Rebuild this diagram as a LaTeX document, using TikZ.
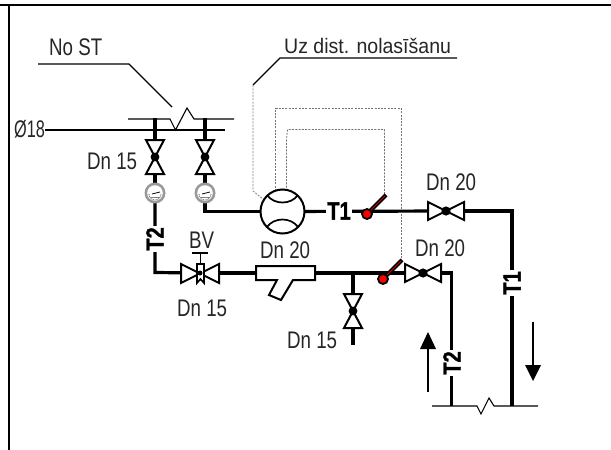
\documentclass[tikz,border=0pt]{standalone}
\usepackage{fontspec}
\setmainfont[FakeStretch=0.78]{Liberation Sans}
\newfontfamily\boldf[FakeStretch=0.8,BoldFeatures={FakeBold=1.2}]{Liberation Sans}
\newfontfamily\uzf[FakeStretch=0.93]{Liberation Sans}
\newfontfamily\numf[FakeStretch=0.68]{Liberation Sans}
\usetikzlibrary{calc}
\definecolor{dashgray}{gray}{0.45}
\definecolor{labcol}{gray}{0.15}
\tikzset{
  x=1pt,y=-1pt,
  frameline/.style={line width=2.4pt,black},
  pipe/.style={line width=3.2pt,line join=miter,black},
  thinline/.style={line width=1.1pt,black},
  sym/.style={line width=2pt,black,fill=white,line join=miter},
  dashedgray/.style={line width=0.8pt,dashgray,dash pattern=on 2pt off 1.3pt},
  lab/.style={inner sep=0pt,text=labcol,font=\fontsize{24}{24}\selectfont},
  tag/.style={inner sep=1.5pt,fill=white,font=\boldf\bfseries\fontsize{25}{25}\selectfont},
  pics/vvalve/.style={code={
    \draw[sym] (-9,-17)--(9,-17)--(-9,17)--(9,17)--cycle;
    \fill (0,0) circle (4.4);}},
  pics/hvalve/.style={code={
    \draw[sym] (-18,-9)--(-18,9)--(18,-9)--(18,9)--cycle;
    \fill (0,0) circle (4.6);}},
  pics/gauge/.style={code={
    \fill[gray!80] (0,0) circle (10.5);
    \fill[white] (0,0) circle (7.8);
    \draw[gray!80!black,line width=0.8pt,dash pattern=on 1pt off 0.8pt] (-6,1) arc (180:0:6);
    \draw[black,line width=0.8pt] (-3,1)--(5,-1);
    \draw[gray,line width=1pt] (-4,4.5)--(4,4.5);}},
  pics/sensor/.style={code={
    \draw[line width=4.2pt,black] (0,0)--(19,-19);
    \draw[line width=1pt,red!80!black] (0,0)--(18,-18);
    \draw[line width=1.8pt,fill=red] (0,0) circle (5);}},
}
\begin{document}
\begin{tikzpicture}
\useasboundingbox (0,0) rectangle (611,450);
\fill[white] (0,0) rectangle (611,450);
% frame
\coordinate (ftl) at (9,5);
\draw[frameline] (0,5)--(611,5);
\draw[frameline] (ftl)--(9,450);
% upper pipe and sleeve lines
\draw[thinline] (128,119)--(170,119)--(175.5,130)--(187,108)--(194,119)--(234,119);
\node[lab,anchor=west,font=\numf\fontsize{24}{24}\selectfont] (d18) at (14,129) {Ø18};
\coordinate (d18e) at (225,130);
\draw[thinline] (d18.east)++(0,1)--(d18e);
% leaders
\node[lab,anchor=west] (nost) at (49,47) {No ST};
\draw[thinline] (38,64)--(129,64)--(172,107);
\node[lab,anchor=west,font=\uzf\fontsize{21}{21}\selectfont] (uz) at (284,46) {Uz dist. nolasīšanu};
\draw[thinline] (253,85)--(280,58)--(457,58);
% instruments positions
\coordinate (vl) at (155,157);
\coordinate (vr) at (205,157);
\coordinate (gl) at (155,193);
\coordinate (gr) at (205,193);
\coordinate (m) at (282.5,211.5);
\coordinate (vt1) at (446,211);
\coordinate (cnrT1) at (512,211);
\coordinate (cnrT1b) at (512,406);
\coordinate (bv) at (200,273);
\coordinate (cnrT2) at (155,272.5);
\coordinate (vt2) at (423,273);
\coordinate (cnrR) at (451.5,273);
\coordinate (cnrRb) at (451.5,406);
\coordinate (vb) at (353,311);
\coordinate (tee) at (353,272.5);
% dashed impulse lines
\draw[dashedgray,gray] (253,85)--(253,191)--(263,199);
\draw[dashedgray] (275.5,191)--(275.5,108.5)--(401.5,108.5)--(401.5,259);
\draw[dashedgray] (286.5,191)--(286.5,140)--(287.5,129.5)--(384.5,129.5)--(384.5,194);
% pipes
\draw[pipe] (155,118)--(vl);
\draw[pipe] (205,118)--(vr);
\draw[pipe] (vl)--(gl);
\draw[pipe] (vr)--(gr);
\draw[pipe] (gr)--(205,211.5)--(m);
\draw[pipe] (m)--(vt1);
\draw[pipe] (vt1)--(cnrT1)--(cnrT1b);
\draw[pipe] (gl)--(cnrT2)--(bv);
\draw[pipe] (bv)--(vt2);
\draw[pipe] (vt2)--(cnrR)--(cnrRb);
\draw[pipe] (tee)--(vb);
\draw[pipe] (vb)--(353,345);
% bottom lines
\draw[thinline] (432,406)--(477,406)--(481,414)--(489,398)--(494,406)--(538,406);
% meter
\draw[line width=2pt,fill=white] (m) circle (22);
\draw[line width=1.7pt] (267,195) .. controls (274,205) and (291,205) .. (298,195);
\draw[line width=1.7pt] (267,227) .. controls (274,217) and (291,217) .. (298,227);
% valves & gauges
\pic at (vl) {vvalve};
\pic at (vr) {vvalve};
\pic at (gl) {gauge};
\pic at (gr) {gauge};
\pic at (vt1) {hvalve};
\pic at (vt2) {hvalve};
\pic at (vb) {vvalve};
% balancing valve
\draw[sym] (181,264)--(181,283)--(219,264)--(219,283)--cycle;
\draw[line width=1.6pt,fill=white] (197,264)--(204,264)--(204,283)--(200.5,279)--(197,283)--cycle;
\draw[line width=1.6pt] (200.5,264)--(200.5,253);
\draw[line width=1.6pt] (192,253)--(208,253);
\fill (bv) circle (2.5);
% strainer
\draw[sym] (256,266)--(315,266)--(315,280)--(293,280)--(281,300)--(269,295)--(277,280)--(256,280)--cycle;
% sensors
\pic at (367,214) {sensor};
\pic at (383,279) {sensor};
% tags
\node[tag] (t1a) at (339,211) {T1};
\node[tag,rotate=90] (t1b) at (512,283) {T1};
\node[tag,rotate=90] (t2a) at (155,239) {T2};
\node[tag,rotate=90] (t2b) at (452,363) {T2};
% labels
\node[lab,anchor=west] (a1) at (87,161) {Dn 15};
\node[lab,anchor=west] (a2) at (426,182) {Dn 20};
\node[lab,anchor=west] (a3) at (189,240) {BV};
\node[lab,anchor=west] (a4) at (260,250) {Dn 20};
\node[lab,anchor=west] (a5) at (415,248) {Dn 20};
\node[lab,anchor=west] (a6) at (177,308) {Dn 15};
\node[lab,anchor=west] (a7) at (287,340) {Dn 15};
% flow arrows
\coordinate (ua) at (428,392);
\coordinate (ub) at (428,349);
\coordinate (da) at (533,322);
\coordinate (db) at (533,365);
\draw[line width=1.4pt] (ua)--(ub);
\fill (420,349)--(428,332)--(436,349)--cycle;
\draw[line width=1.4pt] (da)--(db);
\fill (525,365)--(533,381)--(541,365)--cycle;
\end{tikzpicture}
\end{document}
